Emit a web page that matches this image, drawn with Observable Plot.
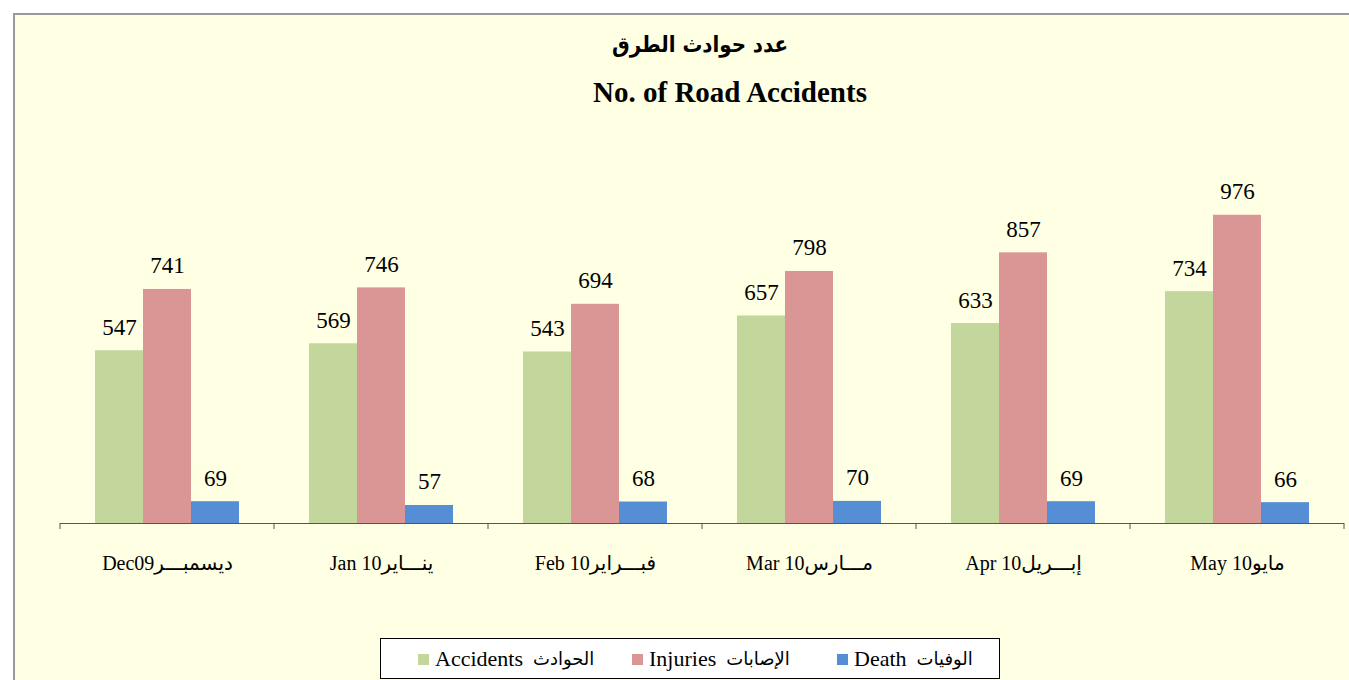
<!DOCTYPE html>
<html>
<head>
<meta charset="utf-8">
<script src="https://cdn.jsdelivr.net/npm/d3@7"></script>
<script src="https://cdn.jsdelivr.net/npm/@observablehq/plot@0.6"></script>
<style>
  html, body { margin: 0; padding: 0; background: #ffffff; width: 1349px; height: 680px; overflow: hidden; }
  #frame { position: absolute; left: 13px; top: 13px; width: 1336px; height: 667px; background: #FFFFE3;
           border-top: 2px solid #9a9a9a; border-left: 2px solid #9a9a9a; box-sizing: border-box; }
  .title { position: absolute; transform: translateX(-50%); white-space: nowrap; font-weight: bold; color: #000; }
  #t1 { left: 700px; top: 31px; font-size: 22px; line-height: 28px; font-family: "DejaVu Sans Condensed", "DejaVu Sans", sans-serif; }
  #t2 { left: 730px; top: 76px; font-size: 29px; line-height: 32px; font-family: "Liberation Serif", "Times New Roman", serif; }
  #chart { position: absolute; left: 0; top: 120px; }
  #legend { position: absolute; left: 380px; top: 638px; width: 620px; height: 41px; background: #fff;
            border: 1px solid #000; box-sizing: border-box; font-family: "Liberation Serif", "DejaVu Sans", serif; }
  .item { position: absolute; top: 8px; white-space: nowrap; line-height: 24px; display: flex; align-items: center; }
  .sw { display: inline-block; width: 11px; height: 11px; margin-right: 6px; }
  .en { font-size: 22px; }
  .ar { font-size: 18px; margin-left: 10px; font-family: "DejaVu Sans", sans-serif; }
</style>
</head>
<body>
<div id="frame"></div>
<div class="title" id="t1" dir="rtl">عدد حوادث الطرق</div>
<div class="title" id="t2">No. of Road Accidents</div>
<div id="chart"></div>
<div id="legend"></div>
<script>
const months = ["Dec09ديسمبـــر", "Jan 10ينـــاير", "Feb 10فبـــراير", "Mar 10مـــارس", "Apr 10إبـــريل", "May 10مايو"];
const series = ["Accidents", "Injuries", "Death"];
const seriesArabic = ["الحوادث", "الإصابات", "الوفيات"];
const accidents = [547, 569, 543, 657, 633, 734];
const injuries = [741, 746, 694, 798, 857, 976];
const deaths = [69, 57, 68, 70, 69, 66];
const colors = ["#C3D69B", "#D99694", "#558ED5"];

const values = [accidents, injuries, deaths];
const data = [];
months.forEach((m, i) => series.forEach((s, j) => data.push({month: m, series: s, value: values[j][i]})));

const plot = Plot.plot({
  width: 1349,
  height: 470,
  marginLeft: 59,
  marginRight: 5,
  marginTop: 24,
  marginBottom: 67,
  style: {background: "transparent", fontFamily: "'Liberation Serif', 'DejaVu Sans', serif", color: "#000"},
  fx: {domain: months, padding: 0, label: null},
  x: {domain: series, paddingInner: 0, paddingOuter: 0.7, axis: null},
  y: {domain: [0, 1200], axis: null},
  color: {domain: series, range: colors},
  marks: [
    Plot.barY(data, {fx: "month", x: "series", y: "value", fill: "series"}),
    Plot.text(data, {fx: "month", x: "series", y: "value", text: d => String(d.value),
      lineAnchor: "bottom", dy: -16, fontSize: 23, fill: "#000"}),
    Plot.ruleY([0], {stroke: "#555", strokeWidth: 1}),
    Plot.axisFx({anchor: "bottom", tickSize: 0, tickPadding: 32, fontSize: 20, label: null})
  ]
});

// boundary ticks at category edges, from the fx scale
const fx = plot.scale("fx");
const y0 = plot.scale("y").apply(0);
const edges = fx.domain.map(d => fx.apply(d)).concat([fx.apply(fx.domain[fx.domain.length - 1]) + fx.bandwidth]);
d3.select(plot).append("g")
  .selectAll("line").data(edges).join("line")
  .attr("x1", d => d).attr("x2", d => d)
  .attr("y1", y0).attr("y2", y0 + 6)
  .attr("stroke", "#555");

document.getElementById("chart").appendChild(plot);

// legend
const legend = document.getElementById("legend");
const offsets = [37, 251, 456];
series.forEach((s, j) => {
  const item = document.createElement("div");
  item.className = "item";
  item.style.left = offsets[j] + "px";
  const sw = document.createElement("span");
  sw.className = "sw";
  sw.style.background = colors[j];
  item.appendChild(sw);
  const t = document.createElement("span");
  t.className = "en";
  t.textContent = s;
  item.appendChild(t);
  const a = document.createElement("span");
  a.className = "ar";
  a.dir = "rtl";
  a.textContent = seriesArabic[j];
  item.appendChild(a);
  legend.appendChild(item);
});
</script>
</body>
</html>
